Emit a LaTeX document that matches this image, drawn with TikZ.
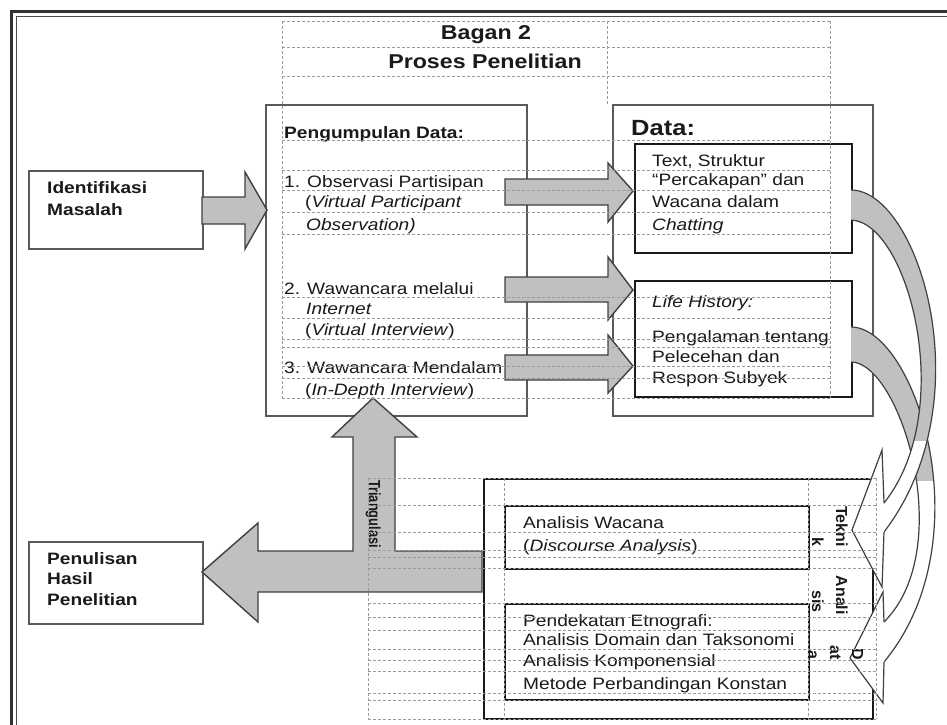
\documentclass[tikz,border=0pt]{standalone}
\usepackage{fontspec}
\setmainfont[FakeStretch=1.16]{Liberation Sans}
\newfontfamily\rotfont{Liberation Sans}
\newfontfamily\rotnarrow[FakeStretch=0.8]{Liberation Sans}
\definecolor{arrowfill}{HTML}{C0C0C0}
\definecolor{edgec}{HTML}{404040}
\definecolor{boxgray}{HTML}{5A5A5A}
\definecolor{gridc}{HTML}{9A9A9A}
\definecolor{ink}{HTML}{1A1A1A}
\begin{document}
\begin{tikzpicture}[x=1pt,y=-1pt,
 txt/.style={inner sep=0pt, anchor=base west, font=\fontsize{16.5}{19}\selectfont, text=ink},
 btxt/.style={txt, font=\fontsize{16.5}{19}\selectfont\bfseries},
 ttl/.style={inner sep=0pt, anchor=base, font=\fontsize{20}{24}\selectfont\bfseries, text=ink},
 blockarrow/.style={fill=arrowfill, draw=edgec, line width=1.4pt, line join=miter},
 obox/.style={draw=boxgray, line width=2pt, anchor=north west, inner sep=0pt, fill=white},
 inbox/.style={draw=ink, line width=1.5pt, anchor=north west, inner sep=0pt, fill=white},
 gridln/.style={draw=gridc, dash pattern=on 3pt off 2pt, line width=0.8pt},
 rotr/.style={inner sep=0pt, rotate=-90, anchor=base east, font=\rotnarrow\fontsize{16}{18}\selectfont\bfseries, text=ink},
 rotb/.style={inner sep=0pt, rotate=-90, anchor=base east, font=\rotfont\fontsize{16}{18}\selectfont\bfseries, text=ink},
 band/.style={draw=edgec, line width=1.2pt},
 headw/.style={fill=white},
 headl/.style={draw=edgec, line width=1.2pt, line join=miter},
]
\clip (0,0) rectangle (947,724);
\fill[white] (0,0) rectangle (947,724);

% outer double frame
\draw[line width=3pt, draw=black!80] (11,11) rectangle (1000,800);
\draw[line width=1.2pt, draw=black!70] (16.5,16.5) rectangle (995,795);

% boxes
\node[obox, minimum width=174pt, minimum height=78pt] (idm) at (28,170) {};
\node[obox, minimum width=174pt, minimum height=82pt] (phl) at (28,541) {};
\node[obox, minimum width=261pt, minimum height=311pt] (pd) at (265,104) {};
\node[obox, minimum width=260pt, minimum height=311pt] (dt) at (612,104) {};
\node[inbox, minimum width=217pt, minimum height=109pt] (d1) at (634,143) {};
\node[inbox, minimum width=217pt, minimum height=116pt] (d2) at (634,280) {};
\node[inbox, minimum width=389pt, minimum height=240pt] (an) at (483,478) {};
\node[inbox, minimum width=304pt, minimum height=63pt] (a1) at (504,505) {};
\node[inbox, minimum width=304pt, minimum height=96pt] (a2) at (504,603) {};

% block arrows
\draw[blockarrow] (202,197) -- (245,197) -- (245,172) -- (267,210) -- (245,249) -- (245,224) -- (202,224) -- cycle;
\draw[blockarrow] (505,179) -- (608,179) -- (608,163) -- (633,191) -- (608,222) -- (608,205) -- (505,205) -- cycle;
\draw[blockarrow] (505,277) -- (608,277) -- (608,257) -- (633,290) -- (608,320) -- (608,302) -- (505,302) -- cycle;
\draw[blockarrow] (505,355) -- (608,355) -- (608,335) -- (633,366) -- (608,393) -- (608,380) -- (505,380) -- cycle;
\draw[blockarrow] (482,551) -- (395,551) -- (395,437) -- (417,437) -- (373,398) -- (332,437) -- (353,437) -- (353,551) -- (258,551) -- (258,523) -- (202,572) -- (258,622) -- (258,592) -- (482,592) -- cycle;

% curved band arrows
\fill[white] (851,327) .. controls (915,327) and (985,540) .. (884,662) -- (884,622) .. controls (958,548) and (900,362) .. (851,362) -- cycle;
\begin{scope}
\clip (840,300) rectangle (960,480);
\fill[arrowfill] (851,327) .. controls (915,327) and (985,540) .. (884,662) -- (884,622) .. controls (958,548) and (900,362) .. (851,362) -- cycle;
\end{scope}
\draw[band] (851,327) .. controls (915,327) and (985,540) .. (884,662);
\draw[band] (851,362) .. controls (900,362) and (958,548) .. (884,622);

\fill[white] (851,190) .. controls (918,190) and (985,400) .. (884,532) -- (884,503) .. controls (958,410) and (908,222) .. (851,220) -- cycle;
\begin{scope}
\clip (840,150) rectangle (960,440);
\fill[arrowfill] (851,190) .. controls (918,190) and (985,400) .. (884,532) -- (884,503) .. controls (958,410) and (908,222) .. (851,220) -- cycle;
\end{scope}
\draw[band] (851,190) .. controls (918,190) and (985,400) .. (884,532);
\draw[band] (851,220) .. controls (908,222) and (958,410) .. (884,503);

% arrow heads of curved arrows
\fill[headw] (882,450) -- (852,530) -- (882,587) -- (884,532) -- (884,503) -- cycle;
\draw[headl] (884,503) -- (882,450) -- (852,530) -- (882,587) -- (884,532);
\fill[headw] (883,592) -- (850,658) -- (883,703) -- (884,662) -- (884,622) -- cycle;
\draw[headl] (884,622) -- (883,592) -- (850,658) -- (883,703) -- (884,662);

% titles
\node[ttl] (t1) at (486,39) {Bagan 2};
\node[ttl] (t2) at (485,68) {Proses Penelitian};

% left labels
\node[btxt] (l1) at (47,193) {Identifikasi};
\node[btxt] (l2) at (47,215) {Masalah};
\node[btxt] (l3) at (47,564) {Penulisan};
\node[btxt] (l4) at (47,584) {Hasil};
\node[btxt] (l5) at (47,605) {Penelitian};

% Pengumpulan data
\node[btxt] (p0) at (284,138) {Pengumpulan Data:};
\node[txt] (p1) at (284,187) {1. Observasi Partisipan};
\node[txt] (p2) at (305,207) {(\textit{Virtual Participant}};
\node[txt] (p3) at (306,230) {\textit{Observation)}};
\node[txt] (p4) at (284,294) {2. Wawancara melalui};
\node[txt] (p5) at (306,314) {\textit{Internet}};
\node[txt] (p6) at (305,335) {(\textit{Virtual Interview})};
\node[txt] (p7) at (284,373) {3. Wawancara Mendalam};
\node[txt] (p8) at (305,395) {(\textit{In-Depth Interview})};

% Data
\node[txt, font=\fontsize{22}{26}\selectfont\bfseries] (q0) at (631,135) {Data:};
\node[txt] (q1) at (652,166) {Text, Struktur};
\node[txt] (q2) at (652,185) {“Percakapan” dan};
\node[txt] (q3) at (652,207) {Wacana dalam};
\node[txt] (q4) at (652,230) {\textit{Chatting}};
\node[txt] (q5) at (652,307) {\textit{Life History:}};
\node[txt] (q6) at (652,342) {Pengalaman tentang};
\node[txt] (q7) at (652,362) {Pelecehan dan};
\node[txt] (q8) at (652,383) {Respon Subyek};

% Analysis
\node[txt] (r1) at (523,528) {Analisis Wacana};
\node[txt] (r2) at (523,551) {(\textit{Discourse Analysis})};
\node[txt] (r3) at (523,626) {Pendekatan Etnografi:};
\node[txt] (r4) at (523,645) {Analisis Domain dan Taksonomi};
\node[txt] (r5) at (523,666) {Analisis Komponensial};
\node[txt] (r6) at (523,689) {Metode Perbandingan Konstan};

% rotated texts
\node[rotr] (tri) at (369,548) {Triangulasi};
\node[rotb] (s1) at (836,547) {Tekni};
\node[rotb] (s2) at (812,547) {k};
\node[rotb] (s3) at (836,615) {Anali};
\node[rotb] (s4) at (812,613) {sis};
\node[rotb] (s5) at (852,660) {D};
\node[rotb] (s6) at (830,660) {at};
\node[rotb] (s7) at (808,660) {a};

% dashed table grid
\foreach \y in {21,47,76,140,170,190,212,234,297,318,339,347,366,378,398}
  \draw[gridln] (282,\y) -- (830,\y);
\draw[gridln] (282,21) -- (282,398);
\draw[gridln] (830,21) -- (830,398);
\draw[gridln] (607,21) -- (607,104);
\foreach \y in {478,505,532,550,557,568,603,617,630,649,660,671,693,700,719}
  \draw[gridln] (368,\y) -- (876,\y);
\foreach \x in {368,504,808,876}
  \draw[gridln] (\x,478) -- (\x,719);
\end{tikzpicture}
\end{document}
